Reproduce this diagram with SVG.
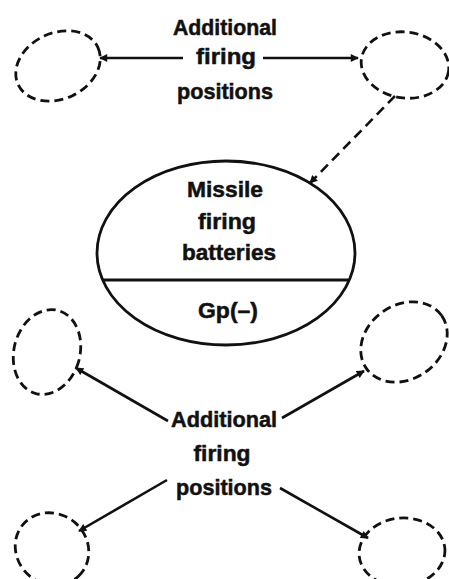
<svg xmlns="http://www.w3.org/2000/svg" width="449" height="579" viewBox="0 0 449 579">
<defs>
<marker id="arr" viewBox="0 0 10 10" refX="9" refY="5" markerWidth="9" markerHeight="8" markerUnits="userSpaceOnUse" orient="auto">
<path d="M0,0 L10,5 L0,10 z" fill="#111"/>
</marker>
</defs>
<style>
.pos{fill:none;stroke:#111;stroke-width:2.8;stroke-dasharray:9 5}
.main{fill:none;stroke:#111;stroke-width:2.8}
.conn{fill:none;stroke:#111;stroke-width:2.6;marker-end:url(#arr)}
.dash{stroke-dasharray:10 6}
text{font-family:"Liberation Sans",Arial,sans-serif;font-weight:bold;font-size:22px;fill:#111;stroke:#111;stroke-width:0.5;text-anchor:middle}
</style>
<rect width="449" height="579" fill="#fff"/>
<g id="pos-top-left"><ellipse class="pos" cx="58" cy="66" rx="44" ry="33" transform="rotate(-25 58 66)"/></g>
<g id="pos-top-right"><ellipse class="pos" cx="405" cy="65" rx="44" ry="33" transform="rotate(8 405 65)"/></g>
<g id="label-top">
<text x="225" y="35" textLength="104" lengthAdjust="spacingAndGlyphs">Additional</text>
<text x="226" y="64" textLength="60" lengthAdjust="spacingAndGlyphs">firing</text>
<text x="225" y="99" textLength="96" lengthAdjust="spacingAndGlyphs">positions</text>
</g>
<g id="batteries">
<ellipse class="main" cx="226" cy="253" rx="129" ry="92"/>
<line class="main" x1="102" y1="280" x2="350" y2="280"/>
<text x="225" y="197" textLength="76" lengthAdjust="spacingAndGlyphs">Missile</text>
<text x="227" y="229" textLength="58" lengthAdjust="spacingAndGlyphs">firing</text>
<text x="229" y="260" textLength="94" lengthAdjust="spacingAndGlyphs">batteries</text>
<text x="228" y="318" textLength="60" lengthAdjust="spacingAndGlyphs">Gp(–)</text>
</g>
<g id="pos-mid-left"><ellipse class="pos" cx="47" cy="352" rx="33" ry="43" transform="rotate(15 47 352)"/></g>
<g id="pos-mid-right"><ellipse class="pos" cx="404" cy="342" rx="46" ry="37" transform="rotate(-35 404 342)"/></g>
<g id="label-bottom">
<text x="224" y="427" textLength="106" lengthAdjust="spacingAndGlyphs">Additional</text>
<text x="222" y="461" textLength="57" lengthAdjust="spacingAndGlyphs">firing</text>
<text x="224" y="495" textLength="96" lengthAdjust="spacingAndGlyphs">positions</text>
</g>
<g id="pos-bot-left"><ellipse class="pos" cx="52" cy="549" rx="38" ry="35" transform="rotate(40 52 549)"/></g>
<g id="pos-bot-right"><ellipse class="pos" cx="402" cy="552" rx="43" ry="34" transform="rotate(-5 402 552)"/></g>
<g id="connectors">
<line class="conn" x1="183" y1="58" x2="100" y2="58"/>
<line class="conn" x1="263" y1="58" x2="358" y2="58"/>
<line class="conn dash" x1="395" y1="96" x2="310" y2="183"/>
<line class="conn" x1="168" y1="421" x2="76" y2="368"/>
<line class="conn" x1="282" y1="418" x2="364" y2="371"/>
<line class="conn" x1="167" y1="480" x2="79" y2="531"/>
<line class="conn" x1="280" y1="488" x2="368" y2="538"/>
</g>
</svg>
